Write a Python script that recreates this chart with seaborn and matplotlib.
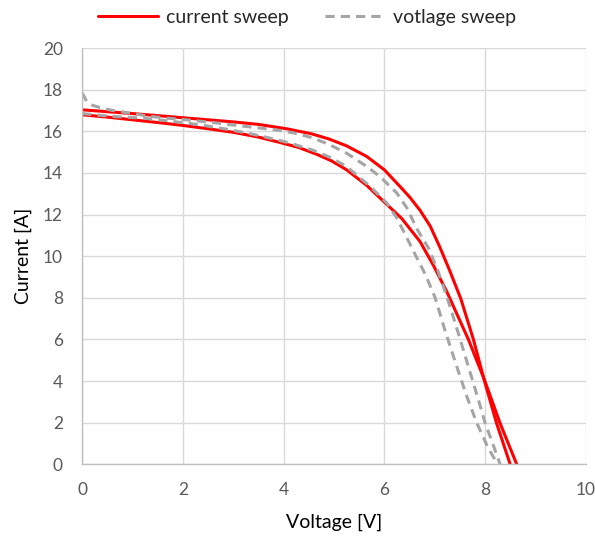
import numpy as np
import pandas as pd
import matplotlib.pyplot as plt
import seaborn as sns

# current sweep - outer pass
cur_a_v = [0, 1, 2, 3, 3.5, 4.06, 4.55, 4.9, 5.25, 5.65, 6.0, 6.31, 6.5, 6.71, 6.91, 7.1, 7.3, 7.52, 7.77, 7.99, 8.23, 8.5]
cur_a_i = [17.03, 16.85, 16.65, 16.45, 16.33, 16.12, 15.88, 15.63, 15.3, 14.79, 14.15, 13.35, 12.85, 12.2, 11.45, 10.45, 9.3, 7.95, 6.0, 4.0, 1.97, 0]
# current sweep - inner pass
cur_b_v = [0, 0.5, 1, 1.5, 2, 2.5, 3, 3.5, 3.93, 4.3, 4.65, 4.95, 5.25, 5.65, 6.0, 6.35, 6.71, 6.97, 7.24, 7.67, 7.99, 8.3, 8.63]
cur_b_i = [16.79, 16.68, 16.55, 16.42, 16.28, 16.12, 15.95, 15.72, 15.46, 15.22, 14.9, 14.58, 14.15, 13.4, 12.6, 11.8, 10.7, 9.58, 8.3, 6.0, 4.05, 1.97, 0]
# voltage sweep - upper pass
vol_a_v = [0, 0.09, 0.2, 0.35, 0.6, 0.82, 1.28, 1.68, 2.07, 2.6, 3.0, 3.47, 3.93, 4.3, 4.59, 4.9, 5.25, 5.65, 5.91, 6.25, 6.45, 6.65, 6.88, 7.07, 7.25, 7.47, 7.67, 7.87, 8.0, 8.16, 8.3]
vol_a_i = [17.84, 17.43, 17.25, 17.14, 17.0, 16.92, 16.74, 16.63, 16.55, 16.42, 16.3, 16.17, 16.04, 15.87, 15.67, 15.37, 14.95, 14.31, 13.83, 13.03, 12.31, 11.3, 10.38, 9.26, 8.0, 6.3, 4.69, 3.09, 2.0, 0.95, 0]
# voltage sweep - lower pass
vol_b_v = [0, 0.3, 0.62, 1.21, 1.7, 2.34, 2.94, 3.4, 3.73, 4.13, 4.59, 4.92, 5.25, 5.72, 6.05, 6.25, 6.45, 6.65, 6.82, 7.01, 7.21, 7.44, 7.64, 7.84, 8.05, 8.25]
vol_b_i = [16.85, 16.78, 16.71, 16.63, 16.5, 16.31, 16.07, 15.85, 15.67, 15.43, 15.08, 14.75, 14.31, 13.35, 12.55, 11.83, 10.87, 9.9, 9.1, 8.0, 6.4, 4.69, 3.25, 1.97, 0.85, 0]

sns.set_theme(style="whitegrid")
plt.rcParams['font.family'] = ['Lato', 'DejaVu Sans']

fig = plt.figure(figsize=(5.95, 5.38), dpi=100)
ax = fig.add_axes([82.2/595, 1-464.3/538, (585.7-82.2)/595, (464.3-48)/538])

red = '#FF0000'
grey = '#A5A5A5'
sns.lineplot(x=cur_a_v, y=cur_a_i, color=red, lw=2.2, sort=False, ax=ax, label='current sweep')
sns.lineplot(x=cur_b_v, y=cur_b_i, color=red, lw=2.2, sort=False, ax=ax)
sns.lineplot(x=vol_a_v, y=vol_a_i, color=grey, lw=2.2, linestyle=(0, (3, 2)), sort=False, ax=ax, label='votlage sweep')
sns.lineplot(x=vol_b_v, y=vol_b_i, color=grey, lw=2.2, linestyle=(0, (3, 2)), sort=False, ax=ax)

ax.set_xlim(0, 10)
ax.set_ylim(0, 20)
ax.set_xticks(range(0, 11, 2))
ax.set_yticks(range(0, 21, 2))
ax.grid(color='#D9D9D9', lw=1)
ax.set_facecolor('white')
for s in ['top', 'right']:
    ax.spines[s].set_visible(False)
for s in ['left', 'bottom']:
    ax.spines[s].set_color('#BFBFBF')
    ax.spines[s].set_linewidth(1)
ax.tick_params(axis='both', length=0, colors='#595959', labelsize=12.5)
ax.tick_params(axis='y', pad=14)
ax.tick_params(axis='x', pad=13)
ax.set_xlabel('Voltage [V]', fontsize=14, color='black', labelpad=11)
ax.set_ylabel('Current [A]', fontsize=14, color='black', labelpad=8)

handles, labels = ax.get_legend_handles_labels()
ax.get_legend().remove()
fig.legend(handles, labels, loc='center', bbox_to_anchor=(0.516, 0.967), ncol=2,
           frameon=False, fontsize=14, handlelength=3.1, handletextpad=0.4,
           columnspacing=1.9)

fig.savefig('out.png', dpi=100)
